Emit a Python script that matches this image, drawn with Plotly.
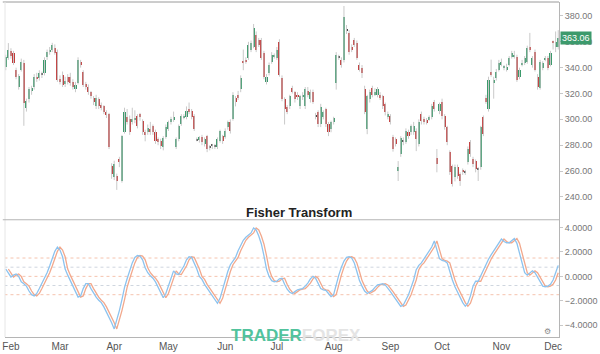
import numpy as np
import pandas as pd
import plotly.graph_objects as go

# ---------------- data ----------------
candles = [
    (340.5, 350, 338, 348), (347.5, 359, 346, 353.5), (353, 355, 347, 349), (351.5, 353, 342, 343.8),
    (338.5, 340, 331, 333), (325, 335, 323, 333.9), (338.5, 347, 337, 344.6), (343.8, 346, 295, 313),
    (309, 316, 306, 314), (315.4, 325, 313, 323.1), (322, 326, 319, 324), (325.4, 335, 323, 333.1),
    (333, 336, 329, 331), (332.3, 338, 330, 336.2), (335, 337, 332, 334.8), (336.2, 348, 334, 346.2),
    (348.5, 354, 346, 352.3), (352, 356, 350, 354), (353.8, 359.2, 352, 357.7), (355.4, 358, 350, 351.5),
    (352.3, 354, 329, 330.8), (331, 334, 327, 329), (334.6, 337, 325, 326.9), (327, 333, 325, 330),
    (333.1, 335, 327, 329.2), (333, 336, 326, 328.5), (329, 331, 323, 325), (323.1, 329, 321, 326.9),
    (328.5, 348, 327, 346.2), (344.6, 346, 340, 342.3), (336.9, 338, 325, 326.9), (327, 329, 323, 325),
    (325.4, 327, 319, 321.5), (321, 322, 316, 318), (316.9, 318, 311, 313.1), (310, 319, 308, 316.9),
    (315.4, 317, 308, 310), (311, 313, 307, 309), (310, 311, 304, 305.4), (306, 307, 301, 303),
    (303.8, 305, 277, 278.5), (264, 266, 254, 258), (255.4, 268, 253, 265.4), (256.2, 258, 245.4, 252.3),
    (269.2, 271, 263, 267.7), (252.3, 288, 251, 286.9), (290, 309, 289, 305.4), (301.5, 308, 296, 297.7),
    (300, 303, 288, 290), (298, 309, 296, 300), (300, 307, 297, 301), (302.3, 304, 293, 294.6),
    (303.8, 305, 299, 301.5), (298.5, 300, 288, 290), (290, 292, 283, 287.7), (290, 296, 288, 293.1),
    (292.3, 298, 288, 290), (294.6, 296, 288, 290), (290, 292, 281, 283.1), (284.6, 286, 280, 282.3),
    (283.1, 285, 277, 279.2), (278.5, 287, 276, 285.4), (286.2, 296, 285, 293.8), (292.3, 299, 291, 297.7),
    (297.7, 302, 296, 300), (299.2, 306, 298, 301.5), (278.5, 286, 277, 284.6), (284.6, 296, 283, 294.6),
    (296.2, 304, 295, 302.3), (301.5, 304, 300, 302.3), (301.5, 310, 300, 306.2), (307.7, 313, 304, 305.4),
    (306.2, 308, 300, 301.5), (302.3, 304, 291, 292.3), (284.6, 286, 283, 284.4), (283.8, 287, 282, 286.2),
    (286.2, 288, 280, 282.3), (280.8, 286, 279, 284.6), (286.9, 288, 274.6, 276.9), (278.5, 280, 276, 278.3),
    (280, 281, 277, 279.8), (279, 281, 277, 279.5), (278.5, 286, 277, 284.6), (283.1, 292, 282, 290.8),
    (286.9, 288, 281, 283.1), (286.2, 293, 285, 290.8), (293.8, 299, 292, 297.7), (297.7, 300, 289, 290.8),
    (300, 321, 299, 319.2), (316.9, 318, 310, 313.8), (319, 322, 315, 316.9), (323.1, 334, 321, 332.3),
    (344.6, 354, 338, 343.8), (346.2, 348, 343, 344.6), (347.7, 360, 346, 357.7), (353.8, 361, 352, 359.2),
    (356.2, 373.8, 355, 370.8), (365.4, 368, 352, 353.8), (361.5, 363, 356, 357.7), (361.5, 363, 346, 347.7),
    (351.5, 353, 331, 333.1), (329.2, 335, 327, 333.1), (336.2, 344, 334, 342.3), (344.6, 352, 343, 350),
    (348.5, 351, 347, 350), (347.7, 356, 346, 353.8), (360, 362, 333, 334.6), (332.3, 334, 314, 315.4),
    (315.4, 317, 296, 307.7), (309.2, 311, 304, 305.4), (310, 319, 308, 317.7), (324.6, 326, 320, 321.5),
    (320.8, 322, 313, 315.4), (319, 321, 315, 317), (310, 319, 308, 317.7), (317, 321, 315, 319),
    (310, 325, 308, 323.1), (322.3, 325, 317, 319.2), (315.4, 323, 313, 320.8), (320.8, 323, 312, 313.8),
    (303, 305, 300, 302.5), (305.4, 307, 294, 296.2), (296.2, 312, 294, 309.2), (301.5, 307, 300, 305.4),
    (307.7, 309, 294, 296.2), (296.2, 298, 287, 290), (292.3, 299, 290, 297.7), (297.7, 302, 296, 300.8),
    (328.5, 352, 323, 350), (348.5, 350, 346, 348), (346.2, 348, 340, 342.3), (346.2, 387.7, 344, 379.2),
    (370, 373, 366, 369.5), (366.9, 369, 350, 352.3), (356.2, 358, 352, 353.8), (361.5, 363, 356, 357.7),
    (359.2, 361, 346, 347.7), (342.3, 344, 337, 338.5), (340, 342, 332, 336.2), (323.1, 326, 304, 305.4),
    (292.3, 319, 288.5, 317.7), (315.4, 323, 313, 320.8), (324.6, 326, 317, 319.2), (319.2, 324, 318, 321.5),
    (319.2, 325, 317, 323.1), (319.2, 321, 315, 316.9), (317.7, 319, 308, 310), (311.5, 313, 303, 305.4),
    (302.3, 306, 300, 303.8), (302.3, 304, 296, 297.7), (286, 288, 275, 277), (284.6, 286, 279, 280.8),
    (260, 267.7, 252.3, 263.1), (273.1, 287, 271, 285.4), (283, 286, 280, 283.5), (282.3, 293, 281, 290.8),
    (290, 292, 285, 286.9), (290, 296, 288, 294.6), (290, 298, 288, 294.6), (290.8, 293, 275.4, 284.6),
    (280.8, 300, 279, 297.7), (303.8, 306, 296, 298.5), (300, 302, 296, 297.7), (299.2, 301, 296, 297.7),
    (300, 303, 299, 301.5), (301.5, 312, 300, 310), (313.1, 315, 306, 307.7), (270, 277, 259, 265.4),
    (306.2, 313, 304, 311.5), (313.8, 316, 300, 302.3), (302.3, 304, 292, 293.8), (293.8, 295, 280, 282.3),
    (274.6, 276, 257, 259.2), (263.8, 265, 248, 250), (255.4, 265, 252, 263.1), (263.1, 265, 254, 256.2),
    (257.7, 259, 248.5, 252.3), (260.8, 262, 257, 259.2), (259.2, 261, 257, 259), (267, 279, 265, 276.9),
    (282.3, 284, 271, 273.1), (269.2, 271, 263, 265.4), (267.7, 269, 259, 261.5), (261.5, 263, 252.3, 261.3),
    (263.1, 295, 261, 293.8), (301.5, 303, 287, 288.5), (316.9, 319, 312, 313.8), (307.7, 333, 306, 330.8),
    (336.9, 346.2, 333, 334.6), (328.5, 333, 316, 330.8), (332.3, 339, 330, 336.9), (338.5, 346, 337, 343.8),
    (342.3, 347, 341, 344.6), (340, 342, 338, 340.8), (338.5, 343, 337, 340.8), (342.3, 349, 341, 347.7),
    (348.5, 353, 347, 351.5), (348.5, 353, 347, 350), (348.5, 350, 329, 330.8), (333.1, 340, 331, 338.5),
    (342.3, 346, 341, 343.8), (343.8, 349, 342, 347.7), (344.6, 357, 343, 355.4), (356.2, 366.9, 352, 353.8),
    (342.3, 349, 340, 347.7), (352.3, 354, 337, 338.5), (333.1, 335, 323, 325.4), (324.6, 346, 323, 344.6),
    (340, 345, 338, 343.8), (346.2, 349, 345, 347.7), (347.7, 349, 338, 340), (342.3, 353, 341, 351.5),
    (360, 361, 354, 359.2), (356.2, 368, 352, 360), (356.2, 369, 354, 363.06),
]
opens = [c[0] for c in candles]
highs = [c[1] for c in candles]
lows = [c[2] for c in candles]
closes = [c[3] for c in candles]

fisher = [
    0.6, 0.3, -0.05, 0.1, 0.2, 0.0, -0.45, -0.6, -0.8, -1.2, -1.5, -1.6, -1.4, -1.0, -0.6, -0.2,
    0.3, 0.85, 1.4, 2.05, 2.4, 2.15, 1.6, 0.6, 0.1, -0.35, -0.75, -1.3, -1.7, -1.6, -1.0, -0.6,
    -0.6, -1.0, -1.4, -1.7, -1.95, -2.15, -2.5, -2.9, -3.3, -3.8, -4.3, -3.6, -2.8, -1.9, -0.9, -0.2,
    0.5, 1.1, 1.55, 1.7, 1.65, 1.35, 0.7, 0.3, 0.05, -0.15, -0.45, -0.9, -1.35, -1.75, -1.4, -0.8,
    -0.1, 0.45, 0.2, 0.15, 0.5, 0.85, 1.35, 1.6, 1.55, 1.1, 0.6, 0.0, -0.25, -0.65, -0.95, -1.25,
    -1.6, -1.95, -2.2, -1.8, -1.0, -0.25, 0.4, 0.95, 1.3, 1.55, 2.1, 2.5, 2.95, 3.2, 3.35, 3.55,
    3.95, 3.8, 3.3, 2.65, 1.7, 0.6, 0.0, -0.35, -0.45, -0.4, -0.2, -0.15, -0.65, -1.05, -1.3, -1.4,
    -1.25, -1.1, -1.05, -1.0, -0.8, -0.55, -0.2, 0.0, -0.15, -0.55, -1.0, -1.1, -1.15, -1.4, -1.65,
    -1.5, -0.6, 0.1, 0.75, 1.25, 1.55, 1.6, 1.5, 1.1, 0.4, -0.35, -0.8, -1.2, -1.4, -1.3, -1.15,
    -0.9, -0.7, -0.65, -0.6, -0.7, -0.95, -1.25, -1.55, -1.85, -2.15, -2.45, -2.35, -1.95, -1.5, -0.9,
    -0.3, 0.55, 0.9, 1.1, 1.4, 1.7, 2.0, 2.4, 2.9, 2.2, 1.45, 1.3, 1.25, 1.1, 0.35, -0.3, -0.85,
    -1.3, -1.75, -2.15, -2.45, -2.2, -1.6, -0.8, -0.4, -0.4, 0.05, 0.55, 1.0, 1.4, 1.75, 2.05, 2.35,
    2.75, 3.05, 2.85, 2.75, 2.75, 2.95, 3.1, 2.7, 1.9, 0.95, 0.3, 0.1, 0.25, 0.45, 0.3, -0.05,
    -0.45, -0.8, -0.85, -0.8, -0.65, -0.3, 0.3, 0.9,
]
fisher_levels = [1.5, 0.75, 0.0, -0.75, -1.5]
price_ticks = [240, 260, 280, 300, 320, 340, 360, 380]
fisher_ticks = [-4, -2, 0, 2, 4]
holidays_2019 = ["2019-02-18", "2019-04-19", "2019-05-27", "2019-07-04", "2019-09-02", "2019-11-28"]
last_price_label = "363.06"

N = len(closes)
fisher = fisher[:N] + [fisher[-1]] * max(0, N - len(fisher))
dates = pd.bdate_range("2019-01-30", periods=N, freq="C", holidays=holidays_2019)
xi = np.arange(N)
trigger = [None] + fisher[:-1]

month_idx = [i for i in range(1, N) if dates[i].month != dates[i - 1].month]
month_txt = [dates[i].strftime("%b") for i in month_idx]

GREEN = "#3c9a6c"
RED = "#c33b3b"
DOJI = "#444444"

body_base, body_h, body_col = [], [], []
for o, c in zip(opens, closes):
    lo, hi = min(o, c), max(o, c)
    h = hi - lo
    if h < 0.6:
        body_col.append(DOJI)
        body_base.append(lo - 0.4)
        body_h.append(0.8)
    else:
        body_col.append(GREEN if c > o else RED)
        body_base.append(lo)
        body_h.append(h)

wx, wy = [], []
for i in range(N):
    wx += [xi[i], xi[i], None]
    wy += [lows[i], highs[i], None]

fig = go.Figure()
fig.add_trace(go.Scatter(x=wx, y=wy, mode="lines", line=dict(color="#c9c9c9", width=1),
                         hoverinfo="skip", showlegend=False, xaxis="x", yaxis="y"))
fig.add_trace(go.Bar(x=xi, y=body_h, base=body_base, marker=dict(color=body_col, line=dict(width=0)),
                     width=0.8, showlegend=False, xaxis="x", yaxis="y"))

for lv in fisher_levels:
    col = "#f5c3ae" if lv in (1.5, 0.0, -1.5) else "#cfd6df"
    fig.add_shape(type="line", xref="x2", yref="y2", x0=-0.5, x1=N - 0.5, y0=lv, y1=lv,
                  line=dict(color=col, width=1, dash="3px,3px"), layer="below")

fig.add_trace(go.Scatter(x=xi, y=trigger, mode="lines", line=dict(color="#f2a88c", width=1.3),
                         showlegend=False, xaxis="x2", yaxis="y2"))
fig.add_trace(go.Scatter(x=xi, y=fisher, mode="lines", line=dict(color="#8cc3ef", width=1.3),
                         showlegend=False, xaxis="x2", yaxis="y2"))

FONT = "Liberation Sans, Arial, sans-serif"
xr = [-0.3, N - 0.7]
fig.update_layout(
    width=600, height=354,
    margin=dict(l=2, r=31, t=2, b=15),
    paper_bgcolor="white", plot_bgcolor="white",
    bargap=0,
    font=dict(family=FONT, size=9, color="#666"),
    xaxis=dict(domain=[0, 1], range=xr, showticklabels=False, showgrid=False, zeroline=False,
               anchor="y", matches="x2"),
    yaxis=dict(domain=[0.35, 1], range=[222.3, 390.8], side="right", tickvals=price_ticks,
               tickformat=".2f", showgrid=False, zeroline=False, showline=True, linecolor="#b5b5b5",
               ticks="outside", ticklen=3, tickcolor="#c8c8c8", tickfont=dict(size=9, color="#777")),
    xaxis2=dict(domain=[0, 1], range=xr, tickvals=month_idx, ticktext=month_txt, showgrid=False,
                zeroline=False, showline=True, linecolor="#b5b5b5", anchor="y2",
                tickfont=dict(size=10, color="#555"), ticks="", ticklabeloverflow="allow"),
    yaxis2=dict(domain=[0, 0.35], range=[-4.96, 4.63], side="right", tickvals=fisher_ticks,
                tickformat=".4f", showgrid=False, zeroline=False, showline=True, linecolor="#b5b5b5",
                ticks="outside", ticklen=3, tickcolor="#c8c8c8", anchor="x2",
                tickfont=dict(size=9, color="#777")),
)

# frame lines
fig.add_shape(type="line", xref="paper", yref="paper", x0=-0.004, x1=1, y0=1, y1=1,
              line=dict(color="#9a9a9a", width=1))
fig.add_shape(type="line", xref="paper", yref="paper", x0=0, x1=0, y0=0, y1=1,
              line=dict(color="#e6e6e6", width=1))
fig.add_shape(type="line", xref="paper", yref="paper", x0=-0.004, x1=1, y0=0.35, y1=0.35,
              line=dict(color="#b5b5b5", width=1))

# last price label
fig.add_annotation(xref="paper", yref="y", x=1.0, y=closes[-1], text=last_price_label,
                   showarrow=False, xanchor="left", yanchor="middle", bgcolor=GREEN,
                   font=dict(color="white", size=9, family=FONT), borderpad=1, xshift=1)

# panel title
fig.add_annotation(xref="paper", yref="paper", x=(303 - 2) / 567, y=0.35, yshift=7,
                   text="<b>Fisher Transform</b>",
                   showarrow=False, xanchor="center", yanchor="middle",
                   font=dict(size=13, color="#222", family=FONT))

# watermark
fig.add_annotation(xref="paper", yref="paper", x=(300 - 2) / 567, y=0.0, yshift=2,
                   text="<b><span style='color:#52c39d'>TRADER</span><span style='color:#e4e4e4'>FOREX</span></b>",
                   showarrow=False, xanchor="center", yanchor="middle",
                   font=dict(size=17, family=FONT))

# small settings icon
fig.add_annotation(xref="paper", yref="paper", x=(557 - 2) / 567, y=(339 - 333) / 337,
                   text="⚙", showarrow=False, font=dict(size=8, color="#888"),
                   xanchor="center", yanchor="middle")

fig.write_html("out.html")
